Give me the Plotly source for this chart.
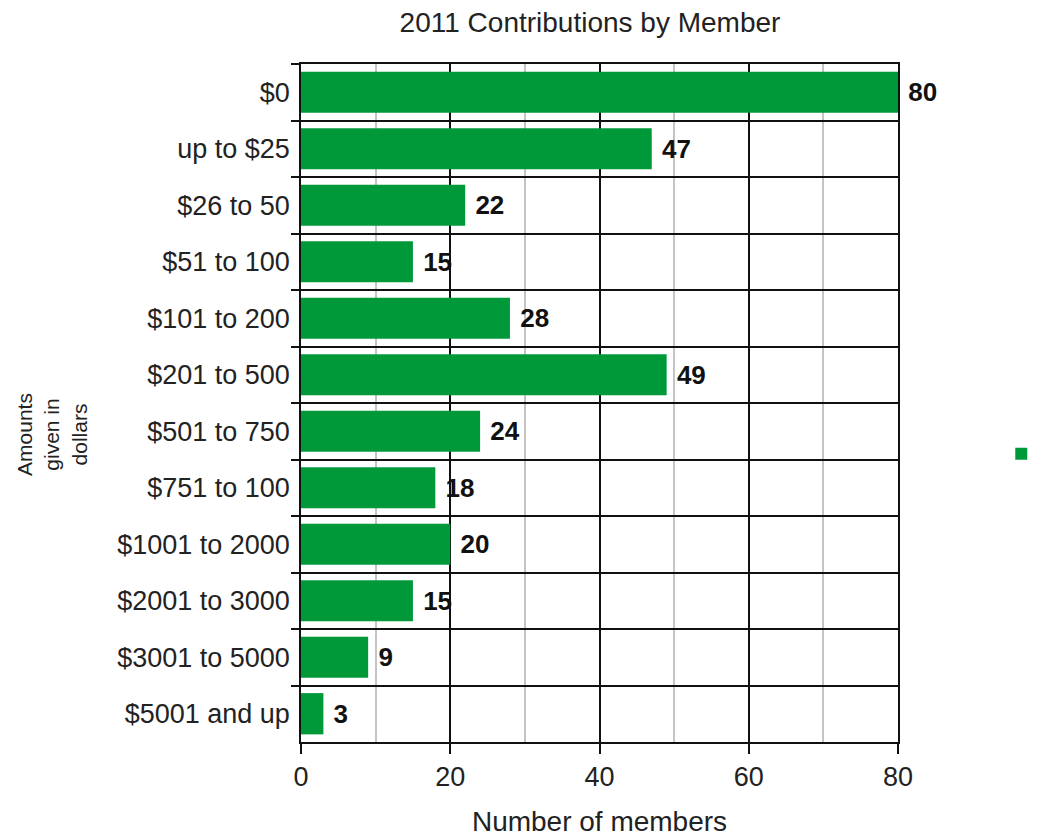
import plotly.graph_objects as go

categories = ["$0", "up to $25", "$26 to 50", "$51 to 100", "$101 to 200", "$201 to 500",
              "$501 to 750", "$751 to 100", "$1001 to 2000", "$2001 to 3000",
              "$3001 to 5000", "$5001 and up"]
members = [80, 47, 22, 15, 28, 49, 24, 18, 20, 15, 9, 3]
x_ticks = [0, 20, 40, 60, 80]

FONT = "Liberation Sans, Arial, sans-serif"
GREEN = "#00993a"

fig = go.Figure()
fig.add_trace(go.Bar(
    x=members, y=categories, orientation="h",
    marker=dict(color=GREEN, line=dict(width=0)),
    texttemplate="\u00a0%{x}", textposition="outside",
    textfont=dict(family=FONT, size=26, color="#111111", weight="bold"),
    cliponaxis=False, name="\u00a0", showlegend=True,
    hovertemplate="%{y}: %{x}<extra></extra>",
))

fig.update_layout(
    width=1029, height=830,
    paper_bgcolor="white", plot_bgcolor="white",
    margin=dict(l=293, r=139, t=56, b=96, autoexpand=False),
    bargap=0.27,
    font=dict(family=FONT, color="#222222"),
    title=dict(text="2011 Contributions by Member", x=0.5656, xanchor="center",
               y=0.983, yanchor="middle", font=dict(size=28, color="#222222")),
    legend=dict(x=1.173, y=0.4248, xanchor="left", yanchor="middle",
                font=dict(size=22), bgcolor="rgba(0,0,0,0)", itemwidth=30),
    annotations=[dict(text="Amounts<br>given in<br>dollars", textangle=-90,
                      xref="paper", yref="paper", x=-0.417, y=0.453,
                      xanchor="center", yanchor="middle", showarrow=False,
                      font=dict(size=21, color="#222222"))],
)

fig.update_xaxes(
    range=[0, 80], tickvals=x_ticks, ticktext=[str(t) for t in x_ticks],
    showgrid=True, gridcolor="#111111", gridwidth=1.6,
    minor=dict(dtick=10, tick0=0, showgrid=True, gridcolor="#c4c4c4", gridwidth=1.5),
    ticks="outside", ticklen=10, tickwidth=1.6, tickcolor="#111111",
    showline=True, linecolor="#111111", linewidth=1.6, mirror=True,
    zeroline=False,
    tickfont=dict(size=27, color="#222222"),
    title=dict(text="Number of members", font=dict(size=28, color="#222222"), standoff=20),
)
fig.update_yaxes(
    autorange="reversed", tickson="boundaries",
    showgrid=True, gridcolor="#111111", gridwidth=1.6,
    ticks="outside", ticklen=8, tickwidth=1.6, tickcolor="#111111",
    showline=True, linecolor="#111111", linewidth=1.6, mirror=True,
    tickfont=dict(size=27, color="#222222"), ticklabelstandoff=4,
)

fig.write_html("out.html")
